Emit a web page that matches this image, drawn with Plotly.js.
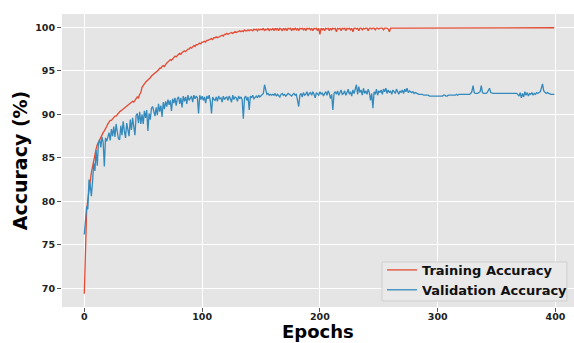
<!DOCTYPE html>
<html>
<head>
<meta charset="utf-8">
<script src="https://cdn.plot.ly/plotly-3.0.1.min.js"></script>
<style>
html,body{margin:0;padding:0;background:#fff;}
#chart{width:574px;height:343px;}
</style>
</head>
<body>
<div id="chart"></div>
<script>
// Training accuracy per epoch (0..399)
const trainingAccuracy = [
69.4, 76.4, 79.0, 80.2, 81.5, 82.5, 83.3, 84.0, 84.8, 85.5, 86.0, 86.5, 86.8, 87.2, 87.5, 87.7, 87.9, 88.1, 88.3, 88.6,
88.9, 89.1, 89.3, 89.3, 89.5, 89.6, 89.8, 89.8, 90.0, 90.1, 90.3, 90.4, 90.5, 90.7, 90.7, 90.8, 90.9, 91.1, 91.1, 91.3,
91.4, 91.5, 91.4, 91.7, 91.8, 92.0, 91.9, 92.3, 92.5, 93.1, 93.4, 93.5, 93.7, 93.8, 93.9, 94.1, 94.2, 94.4, 94.5, 94.6,
94.7, 94.9, 95.0, 95.1, 95.3, 95.3, 95.5, 95.6, 95.5, 95.8, 95.9, 96.0, 96.1, 96.3, 96.2, 96.4, 96.5, 96.7, 96.6, 96.8,
96.9, 97.0, 96.9, 97.1, 97.2, 97.3, 97.2, 97.4, 97.5, 97.5, 97.7, 97.6, 97.8, 97.9, 97.8, 98.0, 98.0, 98.1, 98.2, 98.1,
98.3, 98.3, 98.4, 98.3, 98.5, 98.5, 98.6, 98.6, 98.7, 98.6, 98.8, 98.8, 98.9, 98.8, 98.9, 99.0, 99.0, 99.1, 99.0, 99.2,
99.2, 99.3, 99.2, 99.3, 99.3, 99.4, 99.3, 99.4, 99.5, 99.4, 99.5, 99.5, 99.6, 99.5, 99.6, 99.5, 99.7, 99.6, 99.6, 99.7,
99.6, 99.7, 99.7, 99.6, 99.8, 99.7, 99.8, 99.6, 99.8, 99.7, 99.8, 99.7, 99.9, 99.6, 99.8, 99.7, 99.9, 99.6, 99.8, 99.7,
99.9, 99.6, 99.9, 99.7, 99.9, 99.6, 99.9, 99.8, 99.6, 99.9, 99.7, 99.9, 99.6, 99.9, 99.8, 99.9, 99.6, 99.9, 99.7, 99.9,
99.7, 99.9, 99.6, 99.9, 99.8, 99.9, 99.7, 99.9, 99.6, 99.9, 99.8, 99.9, 99.7, 99.9, 99.6, 99.9, 99.8, 99.9, 99.6, 99.9,
99.2, 99.9, 99.7, 99.9, 99.6, 99.9, 99.8, 99.9, 99.6, 99.9, 99.7, 99.9, 99.8, 99.9, 99.5, 99.9, 99.8, 99.9, 99.6, 99.9,
99.8, 99.9, 99.6, 99.9, 99.8, 99.9, 99.7, 99.9, 99.5, 99.9, 99.9, 99.8, 99.9, 99.6, 99.9, 99.9, 99.7, 99.9, 99.8, 99.9,
99.9, 99.6, 99.9, 99.9, 99.8, 99.9, 99.9, 99.7, 99.9, 99.9, 99.8, 99.9, 99.9, 99.9, 99.7, 99.9, 99.9, 99.9, 99.8, 99.5,
99.9, 99.9, 99.95, 99.9, 99.95, 99.95, 99.9, 99.95, 99.95, 99.95, 99.9, 99.95, 99.95, 99.95, 99.95, 99.9, 99.95, 99.95, 99.95, 99.95,
99.95, 99.95, 99.9, 99.95, 99.95, 99.95, 99.95, 99.95, 99.95, 99.9, 99.95, 99.95, 99.95, 99.95, 99.95, 99.95, 99.95, 99.9, 99.95, 99.95,
99.95, 99.95, 99.95, 99.95, 99.95, 99.95, 99.95, 99.95, 99.9, 99.95, 99.95, 99.95, 99.95, 99.95, 99.95, 99.95, 99.95, 99.95, 99.95, 99.95,
99.95, 99.95, 99.95, 99.95, 99.95, 99.9, 99.95, 99.95, 99.95, 99.95, 99.95, 99.95, 99.95, 99.95, 99.95, 99.95, 99.95, 99.9, 99.95, 99.95,
99.95, 99.95, 99.95, 99.95, 99.95, 99.95, 99.95, 99.95, 99.95, 99.95, 99.95, 99.95, 99.95, 99.95, 99.95, 99.95, 99.9, 99.95, 99.95, 99.95,
99.95, 99.95, 99.95, 99.9, 99.95, 99.95, 99.95, 99.95, 99.95, 99.95, 99.95, 99.95, 99.95, 99.95, 99.95, 99.95, 99.95, 99.95, 99.95, 99.95,
99.95, 99.95, 99.95, 99.95, 99.95, 99.95, 99.95, 99.95, 99.95, 99.95, 99.95, 99.9, 99.95, 99.95, 99.95, 99.95, 99.95, 99.95, 99.95, 99.95
];

// Validation accuracy per epoch (0..399)
const validationAccuracy = [
76.2, 77.9, 79.4, 79.1, 82.5, 81.9, 80.6, 82.3, 84.4, 83.5, 85.9, 84.1, 86.7, 87.1, 86.2, 87.4, 86.8, 84.0, 87.3, 86.9,
87.6, 87.9, 87.0, 88.3, 87.5, 88.6, 87.4, 88.9, 88.0, 87.2, 87.1, 88.7, 87.6, 89.2, 88.1, 87.3, 89.0, 88.4, 87.5, 89.4,
88.2, 89.6, 88.8, 87.6, 89.9, 90.1, 89.0, 90.3, 88.9, 90.0, 88.9, 90.4, 89.6, 90.5, 88.1, 90.1, 89.4, 90.7, 90.9, 90.4,
89.8, 90.8, 89.9, 91.2, 90.3, 91.0, 89.7, 91.4, 90.6, 91.5, 90.9, 91.7, 91.1, 91.6, 90.4, 91.8, 91.3, 91.9, 91.0, 91.8,
92.0, 91.2, 91.9, 90.8, 92.1, 91.5, 92.0, 91.2, 92.2, 91.6, 91.9, 92.1, 91.4, 92.2, 91.8, 92.1, 91.9, 90.1, 92.2, 91.7,
92.1, 91.6, 92.0, 91.3, 92.1, 91.8, 92.2, 91.5, 90.1, 92.0, 91.7, 91.6, 92.0, 91.5, 92.1, 91.8, 91.9, 91.4, 92.1, 91.7,
91.9, 92.0, 91.6, 92.1, 91.8, 91.4, 92.2, 91.7, 92.0, 91.9, 91.5, 92.1, 91.8, 92.0, 91.7, 89.5, 91.9, 92.1, 91.6, 92.0,
90.5, 92.1, 91.9, 92.2, 91.8, 92.0, 92.1, 91.9, 92.2, 92.0, 92.1, 92.3, 92.4, 93.4, 92.6, 92.3, 92.4, 92.2, 92.3, 92.2,
92.3, 92.2, 92.4, 92.1, 92.3, 92.2, 92.0, 92.3, 92.4, 92.2, 92.3, 92.1, 92.2, 92.4, 92.3, 92.2, 92.1, 92.3, 92.4, 92.2,
92.3, 91.6, 90.9, 92.2, 92.4, 92.0, 92.5, 92.2, 92.3, 92.6, 92.1, 92.4, 92.5, 92.2, 92.6, 92.3, 91.9, 92.5, 92.4, 92.2,
92.6, 92.3, 92.5, 92.1, 92.4, 92.6, 92.2, 92.7, 92.4, 91.8, 92.3, 90.5, 92.4, 92.6, 92.3, 92.7, 92.2, 92.5, 92.8, 92.3,
92.4, 92.7, 92.2, 92.5, 92.9, 92.3, 92.6, 92.1, 92.8, 92.4, 93.0, 93.4, 92.3, 93.2, 92.5, 92.8, 92.2, 93.0, 92.4, 92.7,
92.3, 92.9, 92.5, 91.6, 92.4, 90.7, 92.6, 92.3, 92.9, 92.2, 92.7, 92.5, 92.8, 92.3, 92.9, 92.6, 93.0, 92.4, 92.8, 92.5,
92.7, 92.3, 92.8, 92.5, 92.4, 92.9, 92.6, 92.3, 92.7, 92.5, 92.8, 92.4, 92.9, 92.6, 93.0, 92.5, 92.7, 92.6, 92.5, 92.6,
92.4, 92.5, 92.4, 92.3, 92.3, 92.3, 92.3, 92.3, 92.2, 92.2, 92.2, 92.2, 92.2, 92.1, 92.1, 92.1, 92.1, 92.1, 92.1, 92.1,
92.1, 92.1, 92.1, 92.1, 92.1, 92.2, 92.2, 92.1, 92.1, 92.2, 92.2, 92.2, 92.2, 92.2, 92.2, 92.2, 92.3, 92.2, 92.3, 92.3,
92.3, 92.3, 92.3, 92.3, 92.3, 92.3, 92.3, 92.3, 92.4, 92.6, 93.3, 92.5, 92.4, 92.4, 92.4, 92.5, 92.6, 93.3, 92.5, 92.4,
92.4, 92.4, 92.5, 92.8, 93.0, 92.5, 92.4, 92.4, 92.4, 92.4, 92.4, 92.4, 92.4, 92.4, 92.4, 92.4, 92.4, 92.4, 92.4, 92.4,
92.4, 92.4, 92.4, 92.4, 92.4, 92.4, 92.4, 92.4, 92.3, 92.1, 92.5, 91.9, 92.4, 92.0, 92.6, 92.2, 92.5, 92.1, 92.4, 92.3,
92.5, 92.2, 92.4, 92.3, 92.5, 92.4, 92.5, 92.6, 93.0, 93.5, 92.7, 92.5, 92.4, 92.5, 92.4, 92.4, 92.3, 92.3, 92.3, 92.3
];

const epochs = trainingAccuracy.map((_, i) => i);
const seriesNames = ["Training Accuracy", "Validation Accuracy"];
const xTickVals = [0, 100, 200, 300, 400];
const yTickVals = [70, 75, 80, 85, 90, 95, 100];
const xTitle = "Epochs";
const yTitle = "Accuracy (%)";

const traces = [
  {x: epochs, y: trainingAccuracy, name: seriesNames[0], type: "scatter", mode: "lines",
   line: {color: "#E24A33", width: 1.3}},
  {x: epochs, y: validationAccuracy, name: seriesNames[1], type: "scatter", mode: "lines",
   line: {color: "#348ABD", width: 1.3}}
];

const tickFont = {family: "DejaVu Sans", size: 9.5, color: "#222", weight: "bold"};
const titleFont = {family: "DejaVu Sans", size: 19, color: "#000", weight: "bold"};
const layout = {
  width: 574, height: 343,
  margin: {l: 62, r: 0, t: 14, b: 36, pad: 0},
  paper_bgcolor: "#ffffff",
  plot_bgcolor: "#E5E5E5",
  showlegend: true,
  legend: {
    x: 0.625, xanchor: "left", y: 0.007, yanchor: "bottom",
    bgcolor: "rgba(0,0,0,0)", borderwidth: 0,
    font: {family: "DejaVu Sans", size: 13, color: "#111", weight: "bold"},
    tracegroupgap: 0
  },
  shapes: [
    {type: "rect", xref: "paper", yref: "paper", x0: 0.625, x1: 0.986, y0: 0.0205, y1: 0.1536,
     fillcolor: "#E9E9E9", line: {color: "#CFCFCF", width: 1}, layer: "above"}
  ],
  annotations: [
    {text: xTitle, xref: "paper", yref: "paper", x: 0.5, xanchor: "center",
     y: -0.1229, yanchor: "bottom", showarrow: false, borderpad: 0,
     font: {family: "DejaVu Sans", size: 18, color: "#000", weight: "bold"}}
  ],
  xaxis: {
    range: [-18.93, 415.7], tickvals: xTickVals, ticktext: xTickVals.map(String),
    showgrid: true, gridcolor: "#ffffff", gridwidth: 1, zeroline: false, showline: false,
    ticks: "outside", ticklen: 4, tickcolor: "#555", tickwidth: 1,
    ticklabelstandoff: -3,
    tickfont: tickFont,
    automargin: false
  },
  yaxis: {
    range: [67.87, 101.53], tickvals: yTickVals, ticktext: yTickVals.map(String),
    showgrid: true, gridcolor: "#ffffff", gridwidth: 1, zeroline: false, showline: false,
    ticks: "outside", ticklen: 4, tickcolor: "#555", tickwidth: 1,
    tickfont: tickFont,
    title: {text: yTitle, font: titleFont, standoff: 2},
    automargin: false
  }
};

Plotly.newPlot("chart", traces, layout, {displayModeBar: false, staticPlot: true});
</script>
</body>
</html>
